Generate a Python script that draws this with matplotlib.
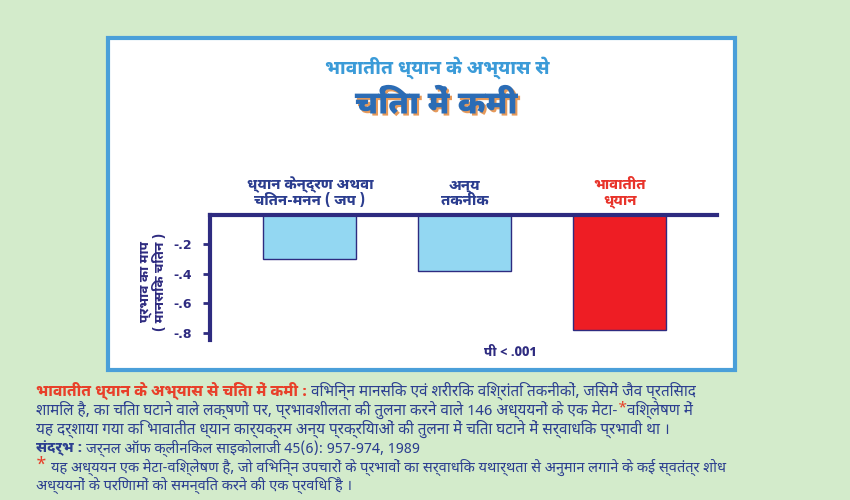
import matplotlib
matplotlib.use("Agg")
import matplotlib.pyplot as plt
import matplotlib.patheffects as pe
from matplotlib.patches import Rectangle

plt.rcParams['font.family'] = ['Noto Sans Devanagari UI', 'DejaVu Sans']
BODY = ['Noto Sans Devanagari', 'DejaVu Sans']

# data
categories = ["ध्यान केन्द्रण अथवा\nचिंतन-मनन ( जप )", "अन्य\nतकनीक", "भावातीत\nध्यान"]
effect = [-0.30, -0.38, -0.78]
bar_colors = ["#93d7f2", "#93d7f2", "#ee1d24"]
label_colors = ["#2b3d8f", "#2b3d8f", "#e8332a"]
ytick_vals = [-0.2, -0.4, -0.6, -0.8]
ytick_text = ["-.2", "-.4", "-.6", "-.8"]

title1 = "भावातीत ध्यान के अभ्यास से"
title2 = "चिंता में कमी"
ylabel = "प्रभाव का माप\n( मानसिक चिंतन )"
pval = "पी < .001"

navy = "#2e2b80"
blue = "#2c3f90"
red = "#e8402a"
bg = "#d3ebcb"

fig = plt.figure(figsize=(8.5, 5), dpi=100, facecolor=bg)

# white panel with blue frame
panel = Rectangle((108 / 850, 1 - 370 / 500), (735 - 108) / 850, (370 - 38) / 500,
                  transform=fig.transFigure, facecolor="white", edgecolor="#4a9fd9",
                  lw=3, zorder=-5)
fig.patches.append(panel)

ax = fig.add_axes([210 / 850, 1 - 340 / 500, (717 - 210) / 850, 125 / 500])
ax.set_facecolor("none")
x = range(len(categories))
ax.bar(x, effect, width=0.6, color=bar_colors, edgecolor=navy, linewidth=1, zorder=2)
ax.set_xlim(-0.645, 2.626)
ax.set_ylim(-0.85, 0)

for s in ["right", "bottom"]:
    ax.spines[s].set_visible(False)
ax.spines["top"].set_color(navy)
ax.spines["top"].set_linewidth(3)
ax.spines["left"].set_color(navy)
ax.spines["left"].set_linewidth(3)
ax.spines["left"].set_bounds(-0.85, 0)

ax.xaxis.tick_top()
ax.set_xticks(list(x))
ax.set_xticklabels(categories, fontsize=10.5, fontweight=800, linespacing=1.0)
for lbl, c in zip(ax.get_xticklabels(), label_colors):
    lbl.set_color(c)
ax.tick_params(axis="x", length=0, pad=5)

ax.set_yticks(ytick_vals)
ax.set_yticklabels(ytick_text, fontsize=9, fontweight="bold", color=navy,
                   family="DejaVu Sans")
ax.tick_params(axis="y", length=5, width=2, color=navy, pad=8)

fig.text(153 / 850, 1 - 282 / 500, ylabel, rotation=90, ha="center", va="center",
         fontsize=9.5, fontweight=800, color=navy, linespacing=1.0)
fig.text(510 / 850, 1 - 353 / 500, pval, ha="center", va="center", fontsize=9.5,
         fontweight=800, color=navy)

fig.text(437 / 850, 1 - 68 / 500, title1, ha="center", va="center", fontsize=13.5,
         fontweight=800, color="#3b9bd8")
fig.text(436 / 850, 1 - 105 / 500, title2, ha="center", va="center", fontsize=23,
         fontweight=900, color="#2b6cb5",
         path_effects=[pe.withSimplePatchShadow(offset=(1.5, -1.5),
                                                shadow_rgbFace="#e79a5a", alpha=1)])

# caption below the panel: (y, right edge to fit, runs)
# run = (text, colour, weight, size, rise, family)
caption = [
    (391, 812, [("भावातीत ध्यान के अभ्यास से चिंता में कमी : ", red, 800, 10.5, 0, None),
                ("विभिन्न मानसिक एवं शरीरिक विश्रांति तकनीकों, जिसमें जैव प्रतिसाद", blue, "normal", 10.5, 0, BODY)]),
    (410, 813, [("शामिल है, का चिंता घटाने वाले लक्षणों पर, प्रभावशीलता की तुलना करने वाले 146 अध्ययनों के एक मेटा-", blue, "normal", 10.5, 0, BODY),
                ("*", red, "bold", 10.5, 2, BODY),
                ("विश्लेषण में", blue, "normal", 10.5, 0, BODY)]),
    (429, 764, [("यह दर्शाया गया कि भावातीत ध्यान कार्यक्रम अन्य प्रक्रियाओं की तुलना में चिंता घटाने में सर्वाधिक प्रभावी था ।", blue, "normal", 10.5, 0, BODY)]),
    (448, 420, [("संदर्भ : ", blue, 800, 10.5, 0, None),
                ("जर्नल ऑफ क्लीनिकल साइकोलाजी 45(6): 957-974, 1989", blue, "normal", 10.5, 0, BODY)]),
    (467, 804, [("* ", red, "bold", 12, 2, BODY),
                ("यह अध्ययन एक मेटा-विश्लेषण है, जो विभिन्न उपचारों के प्रभावों का सर्वाधिक यथार्थता से अनुमान लगाने के कई स्वतंत्र शोध", blue, "normal", 10, 0, BODY)]),
    (485, 395, [("अध्ययनों के परिणामों को समन्वित करने की एक प्रविधि है ।", blue, "normal", 10, 0, BODY)]),
]

fig.canvas.draw()
renderer = fig.canvas.get_renderer()
x0 = 36
for ypix, xend, runs in caption:
    texts = []
    for txt, col, wt, fs, rise, fam in runs:
        t = fig.text(0, 1 - (ypix - rise) / 500, txt, ha="left", va="center",
                     fontsize=fs, fontweight=wt, color=col)
        if fam is not None:
            t.set_family(fam)
        texts.append(t)
    total = sum(t.get_window_extent(renderer).width for t in texts)
    # stretch toward the reference line length, but never so far that lines collide
    k = min((xend - x0) / total, 1.05)
    xpix = x0
    for t in texts:
        t.set_fontsize(t.get_fontsize() * k)
        t.set_x(xpix / 850)
        xpix += t.get_window_extent(renderer).width

fig.savefig("out.png", dpi=100, facecolor=bg)
